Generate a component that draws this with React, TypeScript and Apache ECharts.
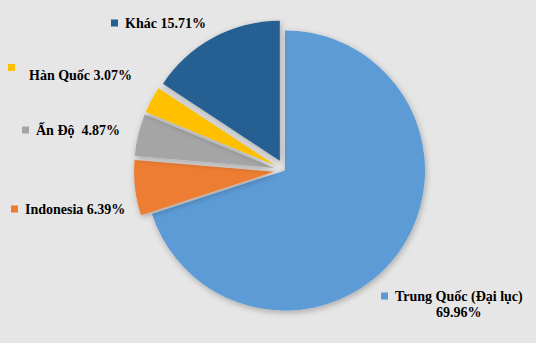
import React, { useEffect, useRef } from 'react';
import * as echarts from 'echarts';

const names = ['Trung Quốc (Đại lục)', 'Indonesia', 'Ấn Độ ', 'Hàn Quốc', 'Khác'];
const shares = [69.96, 6.39, 4.87, 3.07, 15.71];
const colors = ['#5B9BD5', '#ED7D31', '#A5A5A5', '#FFC000', '#255E91'];
const exploded = [false, true, true, true, true];
// label box top-left corners (px)
const labelPos = [[381, 288], [11, 201], [22, 122], [8, 64], [111, 15]];

const FONT = "'Liberation Serif', 'Times New Roman', serif";

export default function App() {
  const ref = useRef<HTMLDivElement>(null);
  useEffect(() => {
    if (!ref.current) return;
    const chart = echarts.init(ref.current, null, { renderer: 'svg' });
    const rich: any = {
      g7: { width: 7, height: 7 },
      g21: { width: 21, height: 7 },
      c14: { width: 14, height: 7, align: 'center' },
    };
    colors.forEach((c, i) => {
      rich['sq' + i] = { width: 7, height: 7, backgroundColor: c };
      rich['t' + i] = { fontFamily: FONT, fontSize: 14, fontWeight: 'bold', color: c, lineHeight: 16 };
      rich['c' + i] = { fontFamily: FONT, fontSize: 14, fontWeight: 'bold', color: c, lineHeight: 16, align: 'center' };
      rich['sqs' + i] = { width: 7, height: 7, lineHeight: 7, backgroundColor: c };
      rich['ts' + i] = { fontFamily: FONT, fontSize: 14, fontWeight: 'bold', color: c, lineHeight: 9 };
    });
    const labelText = (i: number) => {
      const pct = shares[i].toFixed(2) + '%';
      if (i === 0) return `{sq0|}{g7|}{t0|${names[0]}}\n{c14|}{c0|${pct}}`;
      if (i === 3) return `{sqs3|}\n{g21|}{ts3|${names[3]} ${pct}}`;
      return `{sq${i}|}{g7|}{t${i}|${names[i]} ${pct}}`;
    };
    const data = names.map((n, i) => ({
      name: n,
      value: shares[i],
      selected: exploded[i],
      itemStyle: { color: colors[i] },
      select: { itemStyle: { color: colors[i] } },
    }));
    chart.setOption({
      animation: false,
      backgroundColor: '#e7e6e6',
      graphic: names.map((_, i) => ({
        type: 'text',
        x: labelPos[i][0],
        y: labelPos[i][1],
        z: 100,
        style: {
          text: labelText(i),
          rich,
          align: 'left',
          verticalAlign: 'top',
        },
      })),
      series: [
        {
          type: 'pie',
          center: [285, 170.5],
          radius: 140,
          startAngle: 90,
          clockwise: true,
          selectedMode: 'multiple',
          selectedOffset: 11,
          emphasis: { disabled: true },
          itemStyle: {
            shadowBlur: 6,
            shadowColor: 'rgba(0,0,0,0.28)',
            shadowOffsetX: 1,
            shadowOffsetY: 2,
          },
          label: { show: false },
          labelLine: { show: false },
          data,
        },
      ],
    });
    return () => chart.dispose();
  }, []);
  return (
    <div
      ref={ref}
      style={{ position: 'fixed', left: 0, top: 0, width: 536, height: 343 }}
    />
  );
}
